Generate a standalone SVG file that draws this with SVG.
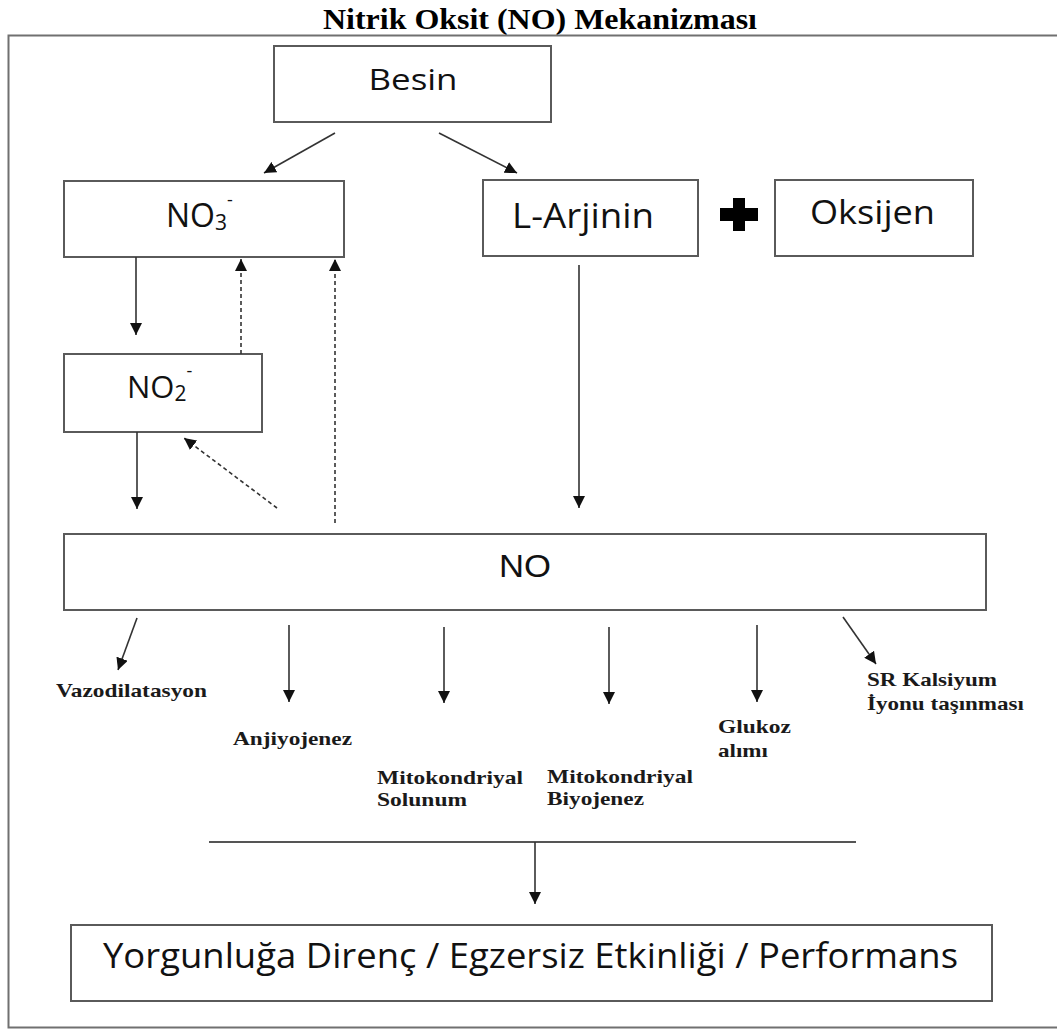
<svg xmlns="http://www.w3.org/2000/svg" width="1057" height="1030" viewBox="0 0 1057 1030">
<style>
.box{fill:#fff;stroke:#5a5a5a;stroke-width:2}
.lbl{font-family:"Open Sans","Liberation Sans",sans-serif;fill:#111}
.eff{font-family:"Liberation Serif","Times New Roman",serif;font-weight:bold;font-size:19px;fill:#1a1a1a}
.c{stroke:#333;stroke-width:1.6;fill:none}
.d{stroke:#333;stroke-width:1.6;fill:none;stroke-dasharray:4 3}
</style>
<defs>
<marker id="ah" markerUnits="userSpaceOnUse" markerWidth="12" markerHeight="12" refX="12" refY="6" orient="auto">
<path d="M0,0 L12,6 L0,12 z" fill="#111"/>
</marker>
</defs>
<rect width="1057" height="1030" fill="#fff"/>
<text x="540" y="29" text-anchor="middle" font-family="'Liberation Serif','Times New Roman',serif" font-weight="bold" font-size="30" fill="#000" textLength="434" lengthAdjust="spacingAndGlyphs">Nitrik Oksit (NO) Mekanizması</text>
<path id="frame" d="M1060,35.5 H8.5 V1027.5 H1060" fill="none" stroke="#707070" stroke-width="2"/>

<g id="besin"><rect class="box" x="274" y="46" width="277" height="76"/><text class="lbl" x="368.5" y="90" font-size="30" textLength="89" lengthAdjust="spacingAndGlyphs">Besin</text></g>
<g id="no3"><rect class="box" x="64" y="181" width="280" height="76"/><text class="lbl" x="166" y="227" font-size="32">NO<tspan font-size="21" dy="3">3</tspan><tspan font-size="18" dy="-24">-</tspan></text></g>
<g id="no2"><rect class="box" x="64" y="354" width="198" height="78"/><text class="lbl" x="127" y="398" font-size="31">NO<tspan font-size="21" dy="3">2</tspan><tspan font-size="18" dy="-24">-</tspan></text></g>
<g id="larjinin"><rect class="box" x="483" y="180" width="215" height="76"/><text class="lbl" x="512" y="228" font-size="34" textLength="142" lengthAdjust="spacingAndGlyphs" fill="#0d1630">L-Arjinin</text></g>
<g id="plus"><path d="M733,198 h12 v10 h13 v13 h-13 v10 h-12 v-10 h-13 v-13 h13 z" fill="#000"/></g>
<g id="oksijen"><rect class="box" x="775" y="180" width="198" height="76"/><text class="lbl" x="810" y="224" font-size="32" textLength="125" lengthAdjust="spacingAndGlyphs">Oksijen</text></g>
<g id="no"><rect class="box" x="64" y="534" width="922" height="76"/><text x="499" y="577" font-family="'Liberation Sans',Arial,sans-serif" font-size="31" fill="#111" textLength="52" lengthAdjust="spacingAndGlyphs">NO</text></g>

<g id="effects">
<text class="eff" x="56" y="697" textLength="151" lengthAdjust="spacingAndGlyphs">Vazodilatasyon</text>
<text class="eff" x="233" y="745" textLength="119" lengthAdjust="spacingAndGlyphs">Anjiyojenez</text>
<text class="eff" x="377" y="784" textLength="146" lengthAdjust="spacingAndGlyphs">Mitokondriyal</text>
<text class="eff" x="377" y="806" textLength="90" lengthAdjust="spacingAndGlyphs">Solunum</text>
<text class="eff" x="547" y="783" textLength="146" lengthAdjust="spacingAndGlyphs">Mitokondriyal</text>
<text class="eff" x="547" y="805" textLength="97" lengthAdjust="spacingAndGlyphs">Biyojenez</text>
<text class="eff" x="718" y="733" textLength="73" lengthAdjust="spacingAndGlyphs">Glukoz</text>
<text class="eff" x="718" y="757" textLength="50" lengthAdjust="spacingAndGlyphs">alımı</text>
<text class="eff" x="867" y="686" textLength="130" lengthAdjust="spacingAndGlyphs">SR Kalsiyum</text>
<text class="eff" x="867" y="710" textLength="157" lengthAdjust="spacingAndGlyphs">İyonu taşınması</text>
</g>

<g id="result"><rect class="box" x="71" y="925" width="921" height="76"/><text class="lbl" x="103" y="968" font-size="34" textLength="855" lengthAdjust="spacingAndGlyphs">Yorgunluğa Direnç / Egzersiz Etkinliği / Performans</text></g>

<g id="connectors">
<line class="c" x1="335" y1="133" x2="264" y2="173" marker-end="url(#ah)"/>
<line class="c" x1="439" y1="133" x2="517" y2="173" marker-end="url(#ah)"/>
<line class="c" x1="136" y1="257" x2="136" y2="335" marker-end="url(#ah)"/>
<line class="c" x1="137" y1="432" x2="137" y2="509" marker-end="url(#ah)"/>
<line class="d" x1="241" y1="354" x2="241" y2="259" marker-end="url(#ah)"/>
<line class="d" x1="335" y1="523" x2="335" y2="259" marker-end="url(#ah)"/>
<line class="d" x1="277" y1="508" x2="184" y2="438" marker-end="url(#ah)"/>
<line class="c" x1="579" y1="265" x2="579" y2="508" marker-end="url(#ah)"/>
<line class="c" x1="137" y1="618" x2="118" y2="670" marker-end="url(#ah)"/>
<line class="c" x1="289" y1="625" x2="289" y2="702" marker-end="url(#ah)"/>
<line class="c" x1="444" y1="627" x2="444" y2="703" marker-end="url(#ah)"/>
<line class="c" x1="609" y1="627" x2="609" y2="704" marker-end="url(#ah)"/>
<line class="c" x1="757" y1="625" x2="757" y2="702" marker-end="url(#ah)"/>
<line class="c" x1="843" y1="617" x2="876" y2="664" marker-end="url(#ah)"/>
<line x1="209" y1="842" x2="856" y2="842" stroke="#555" stroke-width="2"/>
<line class="c" x1="535" y1="842" x2="535" y2="904" marker-end="url(#ah)"/>
</g>
</svg>
